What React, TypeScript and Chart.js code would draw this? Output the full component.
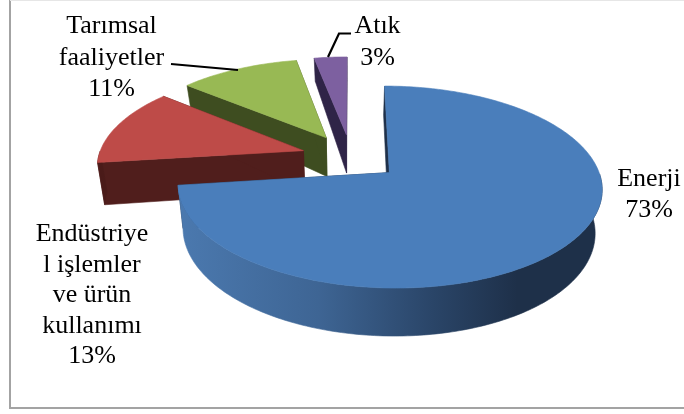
import React, { useEffect, useRef } from "react";
import { Chart, registerables } from "chart.js";

Chart.register(...registerables);

// Emission shares by sector
const categories = ["Enerji", "Endüstriyel işlemler ve ürün kullanımı", "Tarımsal faaliyetler", "Atık"];
const shares = [73, 13, 11, 3];

// Label text, one entry per line
const enerjiLines = ["Enerji", "73%"];
const endustriLines = ["Endüstriye", "l işlemler", "ve ürün", "kullanımı", "13%"];
const tarimLines = ["Tarımsal", "faaliyetler", "11%"];
const atikLines = ["Atık", "3%"];

// Colours of the top faces, cut faces and rim gradients
const topColors = ["#4a7ebb", "#be4b48", "#98b954", "#7d60a0"];
const cutColors = ["#1f3049", "#501e1c", "#3e4d20", "#2f2447"];
const rimStops = [
  ["#4b79af", "#3e6594", "#2a4568", "#1e3049"],
  ["#5a2220", "#501e1c", "#501e1c", "#4a1b19"],
  ["#46572a", "#3e4d20", "#3e4d20", "#3a481e"],
  ["#352a50", "#2f2447", "#2f2447", "#2a2040"],
];

// Tilted-disc projection constants
const SQUASH = 0.461;
const PERSPECTIVE = 0.14;
const INWARD = 0.972;
const DEPTH = 42;
const RADIUS = 205;
const EXPLODE = 50;

const depthAt = (y: number) => (y < 0 ? DEPTH * (1 + 0.0018 * y) : DEPTH * (1 + 0.0006 * y));

// Extruded pie: reads the angles of the library's arc elements and paints them in perspective
const pie3d = {
  id: "pie3d",
  beforeDatasetDraw(chart: any) {
    const ctx: CanvasRenderingContext2D = chart.ctx;
    const arcs = chart.getDatasetMeta(0).data;
    const top = (px: number, py: number, cx: number, cy: number, R: number) => {
      const s = 1 / (1 - (PERSPECTIVE * py) / R);
      return [cx + px * s, cy + SQUASH * py * s];
    };
    const bottom = (px: number, py: number, cx: number, cy: number, R: number) => {
      const s = 1 / (1 - (PERSPECTIVE * py) / R);
      return [cx + INWARD * px * s, cy + SQUASH * py * s + depthAt(py)];
    };
    const fillPoly = (pts: number[][], fill: string | CanvasGradient) => {
      ctx.beginPath();
      pts.forEach((p, i) => (i ? ctx.lineTo(p[0], p[1]) : ctx.moveTo(p[0], p[1])));
      ctx.closePath();
      ctx.fillStyle = fill;
      ctx.strokeStyle = fill;
      ctx.lineWidth = 0.6;
      ctx.fill();
      ctx.stroke();
    };

    // Rear slices first so the nearer ones cover them
    for (let i = arcs.length - 1; i >= 0; i--) {
      const arc = arcs[i];
      const { x: cx, y: cy, startAngle, endAngle, outerRadius: R } = arc;
      const mid = (startAngle + endAngle) / 2;
      const off = arc.options.offset;
      const ox = off * Math.cos(mid);
      const oy = off * Math.sin(mid);
      const steps = Math.max(8, Math.ceil(((endAngle - startAngle) * 180) / Math.PI));
      const rimPlane: number[][] = [];
      for (let k = 0; k <= steps; k++) {
        const a = startAngle + ((endAngle - startAngle) * k) / steps;
        rimPlane.push([ox + R * Math.cos(a), oy + R * Math.sin(a)]);
      }
      const apexTop = top(ox, oy, cx, cy, R);
      const apexBottom = bottom(ox, oy, cx, cy, R);

      // Two radial cut faces
      [rimPlane[0], rimPlane[rimPlane.length - 1]].forEach((p) => {
        fillPoly([apexTop, top(p[0], p[1], cx, cy, R), bottom(p[0], p[1], cx, cy, R), apexBottom], cutColors[i]);
      });

      // Outer wall, only where it faces the viewer
      const front = rimPlane.filter((p) => p[1] - oy >= 0);
      if (front.length > 1) {
        const upper = front.map((p) => top(p[0], p[1], cx, cy, R));
        const lower = front.map((p) => bottom(p[0], p[1], cx, cy, R)).reverse();
        const xs = upper.map((p) => p[0]);
        const g = ctx.createLinearGradient(Math.min(...xs), 0, Math.max(...xs), 0);
        const stops = rimStops[i];
        [0, 0.33, 0.6, 0.8].forEach((t, n) => g.addColorStop(t, stops[n]));
        fillPoly([...upper, ...lower], g);
      }

      // Top face
      fillPoly([apexTop, ...rimPlane.map((p) => top(p[0], p[1], cx, cy, R))], topColors[i]);
    }
    return false;
  },
  afterDraw(chart: any) {
    const ctx: CanvasRenderingContext2D = chart.ctx;
    ctx.save();

    // Frame
    ctx.strokeStyle = "#a3a3a3";
    ctx.lineWidth = 2;
    ctx.beginPath();
    ctx.moveTo(10, 0);
    ctx.lineTo(10, 408);
    ctx.lineTo(684, 408);
    ctx.stroke();
    ctx.strokeStyle = "#e6e6e6";
    ctx.lineWidth = 1;
    ctx.beginPath();
    ctx.moveTo(10, 0.5);
    ctx.lineTo(684, 0.5);
    ctx.stroke();

    // Leader lines
    ctx.strokeStyle = "#000000";
    ctx.lineWidth = 2.2;
    ctx.beginPath();
    ctx.moveTo(171, 64);
    ctx.lineTo(238, 70);
    ctx.moveTo(328, 57);
    ctx.lineTo(339, 33.5);
    ctx.lineTo(351, 33.5);
    ctx.stroke();

    // Slice labels
    ctx.fillStyle = "#000000";
    ctx.font = '26px "Liberation Serif"';
    ctx.textAlign = "center";
    ctx.textBaseline = "alphabetic";
    const block = (lines: string[], x: number, y: number, lead: number) =>
      lines.forEach((t, n) => ctx.fillText(t, x, y + n * lead));
    block(enerjiLines, 649, 186, 31);
    block(endustriLines, 92, 241, 30.5);
    block(tarimLines, 111.5, 33, 31.5);
    block(atikLines, 377.5, 33, 32);
    ctx.restore();
  },
};

export default function App() {
  const ref = useRef<HTMLCanvasElement>(null);
  useEffect(() => {
    const chart = new Chart(ref.current as HTMLCanvasElement, {
      type: "pie",
      data: {
        labels: categories,
        datasets: [{ data: shares, backgroundColor: topColors, borderWidth: 0, offset: EXPLODE, radius: RADIUS }],
      },
      options: {
        animation: false,
        responsive: false,
        devicePixelRatio: 1,
        layout: { padding: { left: 18, bottom: 100 } },
        plugins: { legend: { display: false }, tooltip: { enabled: false }, title: { display: false } },
      } as any,
      plugins: [pie3d],
    });
    return () => chart.destroy();
  }, []);
  return (
    <div style={{ position: "absolute", left: 0, top: 0, width: 684, height: 414, background: "#ffffff" }}>
      <canvas ref={ref} width={684} height={414} style={{ display: "block" }} />
    </div>
  );
}
